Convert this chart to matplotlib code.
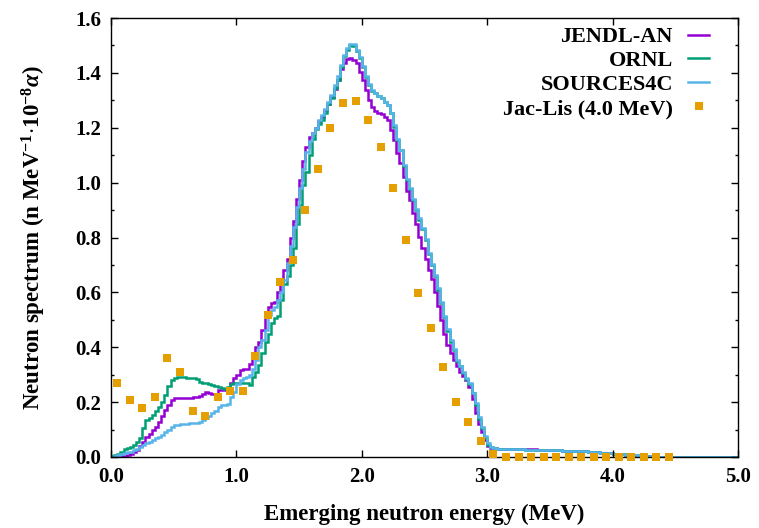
import matplotlib
matplotlib.use("Agg")
import matplotlib.pyplot as plt
import numpy as np

plt.rcParams['font.family'] = ['Liberation Serif', 'DejaVu Serif']
plt.rcParams['font.weight'] = 'bold'
plt.rcParams['mathtext.fontset'] = 'custom'
plt.rcParams['mathtext.rm'] = 'Liberation Serif:bold'
plt.rcParams['mathtext.bf'] = 'Liberation Serif:bold'
plt.rcParams['mathtext.it'] = 'Liberation Serif:italic:bold'

# Histogram bins (MeV): 0.025 MeV wide up to 3.1 MeV, then 0.1 MeV, then one last wide bin
fine_width = 0.025
tail_edges = [3.2, 3.3, 3.4, 3.5, 3.6, 3.7, 3.8, 3.9, 4.0, 4.1, 4.2, 4.3, 5.0]

jendl_fine = [
    0.000, 0.000, 0.000, 0.002, 0.004, 0.008, 0.012, 0.018, 0.026, 0.040,
    0.055, 0.074, 0.085, 0.098, 0.110, 0.129, 0.148, 0.171, 0.190, 0.208,
    0.216, 0.216, 0.216, 0.216, 0.216, 0.216, 0.218, 0.218, 0.222, 0.228,
    0.238, 0.234, 0.228, 0.228, 0.244, 0.244, 0.244, 0.246, 0.268, 0.287,
    0.300, 0.317, 0.320, 0.320, 0.340, 0.372, 0.402, 0.420, 0.463, 0.511,
    0.545, 0.560, 0.566, 0.600, 0.630, 0.680, 0.720, 0.800, 0.860, 0.940,
    1.010, 1.080, 1.130, 1.167, 1.180, 1.200, 1.225, 1.240, 1.265, 1.285,
    1.313, 1.340, 1.374, 1.415, 1.435, 1.450, 1.455, 1.448, 1.435, 1.404,
    1.374, 1.337, 1.301, 1.277, 1.262, 1.255, 1.250, 1.240, 1.228, 1.190,
    1.155, 1.107, 1.070, 1.020, 0.970, 0.935, 0.890, 0.850, 0.803, 0.760,
    0.720, 0.680, 0.650, 0.600, 0.550, 0.500, 0.450, 0.410, 0.380, 0.355,
    0.330, 0.310, 0.295, 0.281, 0.255, 0.210, 0.160, 0.120, 0.090, 0.062,
    0.040, 0.034, 0.031, 0.030]
jendl_tail = [0.030, 0.029, 0.028, 0.027, 0.025, 0.023, 0.021, 0.018,
              0.014, 0.010, 0.005, 0.002, 0.000]

ornl_fine = [
    0.002, 0.006, 0.012, 0.018, 0.028, 0.033, 0.038, 0.045, 0.055, 0.070,
    0.105, 0.135, 0.142, 0.153, 0.168, 0.183, 0.200, 0.226, 0.260, 0.280,
    0.288, 0.290, 0.290, 0.290, 0.289, 0.289, 0.288, 0.284, 0.274, 0.270,
    0.268, 0.265, 0.262, 0.259, 0.255, 0.250, 0.247, 0.255, 0.265, 0.270,
    0.268, 0.268, 0.268, 0.268, 0.262, 0.293, 0.310, 0.335, 0.380, 0.420,
    0.450, 0.487, 0.505, 0.515, 0.572, 0.630, 0.660, 0.700, 0.760, 0.850,
    0.920, 0.990, 1.040, 1.100, 1.160, 1.195, 1.215, 1.230, 1.255, 1.285,
    1.310, 1.345, 1.374, 1.420, 1.460, 1.485, 1.500, 1.498, 1.480, 1.455,
    1.420, 1.385, 1.355, 1.335, 1.325, 1.315, 1.307, 1.295, 1.283, 1.252,
    1.204, 1.155, 1.120, 1.060, 1.010, 0.975, 0.935, 0.900, 0.864, 0.830,
    0.790, 0.740, 0.700, 0.660, 0.610, 0.560, 0.510, 0.460, 0.420, 0.390,
    0.350, 0.330, 0.305, 0.285, 0.265, 0.232, 0.190, 0.140, 0.105, 0.070,
    0.045, 0.036, 0.031, 0.030]
ornl_tail = [0.029, 0.028, 0.027, 0.026, 0.025, 0.023, 0.022, 0.019,
             0.015, 0.011, 0.006, 0.002, 0.000]

sources4c_fine = [
    0.001, 0.004, 0.007, 0.010, 0.014, 0.017, 0.020, 0.024, 0.030, 0.038,
    0.045, 0.050, 0.056, 0.062, 0.068, 0.074, 0.082, 0.090, 0.100, 0.110,
    0.116, 0.118, 0.120, 0.121, 0.122, 0.123, 0.124, 0.125, 0.128, 0.135,
    0.141, 0.150, 0.159, 0.168, 0.181, 0.188, 0.190, 0.192, 0.220, 0.238,
    0.265, 0.282, 0.287, 0.293, 0.300, 0.320, 0.354, 0.400, 0.426, 0.463,
    0.517, 0.536, 0.545, 0.572, 0.600, 0.645, 0.706, 0.770, 0.840, 0.910,
    0.980, 1.050, 1.110, 1.150, 1.180, 1.200, 1.228, 1.245, 1.270, 1.295,
    1.320, 1.355, 1.390, 1.430, 1.465, 1.490, 1.507, 1.505, 1.485, 1.459,
    1.425, 1.390, 1.360, 1.338, 1.325, 1.315, 1.307, 1.295, 1.283, 1.255,
    1.210, 1.160, 1.120, 1.065, 1.015, 0.980, 0.940, 0.905, 0.870, 0.835,
    0.795, 0.745, 0.705, 0.665, 0.615, 0.565, 0.515, 0.465, 0.425, 0.395,
    0.355, 0.333, 0.308, 0.288, 0.268, 0.235, 0.195, 0.145, 0.110, 0.075,
    0.050, 0.038, 0.032, 0.030]
sources4c_tail = [0.029, 0.028, 0.027, 0.026, 0.025, 0.023, 0.022, 0.019,
                  0.015, 0.011, 0.006, 0.002, 0.000]

jaclis_e = [0.05, 0.15, 0.25, 0.35, 0.45, 0.55, 0.65, 0.75, 0.85, 0.95,
            1.05, 1.15, 1.25, 1.35, 1.45, 1.55, 1.65, 1.75, 1.85, 1.95,
            2.05, 2.15, 2.25, 2.35, 2.45, 2.55, 2.65, 2.75, 2.85, 2.95,
            3.05, 3.15, 3.25, 3.35, 3.45, 3.55, 3.65, 3.75, 3.85, 3.95,
            4.05, 4.15, 4.25, 4.35, 4.45]
jaclis_v = [0.270, 0.208, 0.178, 0.217, 0.360, 0.309, 0.167, 0.150, 0.218, 0.240,
            0.240, 0.367, 0.516, 0.637, 0.717, 0.900, 1.050, 1.199, 1.290, 1.296,
            1.227, 1.129, 0.979, 0.790, 0.597, 0.469, 0.327, 0.199, 0.126, 0.057,
            0.011, 0.000, 0.000, 0.000, 0.000, 0.000, 0.000, 0.000, 0.000, 0.000,
            0.000, 0.000, 0.000, 0.000, 0.000]

series_labels = ['JENDL-AN', 'ORNL', 'SOURCES4C', 'Jac-Lis (4.0 MeV)']
colors = ['#9400D3', '#009E73', '#56B4E9', '#E69F00']

n_fine = len(jendl_fine)
fine_edges = list(np.round(np.arange(n_fine + 1) * fine_width, 4))
bin_edges = fine_edges + tail_edges

fig = plt.figure(figsize=(7.59, 5.28), dpi=100)
ax = fig.add_axes([111/759, 1-457/528, (738-111)/759, (457-18)/528])

curves = [jendl_fine + jendl_tail, ornl_fine + ornl_tail, sources4c_fine + sources4c_tail]
for vals, lab, c in zip(curves, series_labels[:3], colors[:3]):
    ax.stairs(vals, bin_edges, color=c, lw=1.8, label=lab, baseline=None)
ax.plot(jaclis_e, jaclis_v, 's', color=colors[3], ms=5.4, mew=0,
        label=series_labels[3], clip_on=False, zorder=5)

ax.set_xlim(0, 5.0)
ax.set_ylim(0, 1.6)
ax.set_xticks([0, 1, 2, 3, 4, 5])
ax.set_xticklabels(['0.0', '1.0', '2.0', '3.0', '4.0', '5.0'])
ax.set_yticks([0.0, 0.2, 0.4, 0.6, 0.8, 1.0, 1.2, 1.4, 1.6])
ax.set_yticklabels(['0.0', '0.2', '0.4', '0.6', '0.8', '1.0', '1.2', '1.4', '1.6'])
ax.set_yticks([0.1, 0.3, 0.5, 0.7, 0.9, 1.1, 1.3, 1.5], minor=True)
ax.tick_params(axis='both', which='major', direction='in', length=5, width=1,
               top=True, right=True, labelsize=15, pad=7)
ax.tick_params(axis='y', which='minor', direction='in', length=2.5, width=1,
               right=True, left=True)
for lbl in ax.get_xticklabels() + ax.get_yticklabels():
    lbl.set_fontweight('bold')
for s in ax.spines.values():
    s.set_linewidth(1.0)

ax.set_xlabel('Emerging neutron energy (MeV)', fontsize=16.5, fontweight='bold')
ax.xaxis.set_label_coords(0.5, (457-504)/439)
ax.set_ylabel(r'Neutron spectrum (n MeV$^{-1}$$\cdot$10$^{-8}$$\mathit{\alpha}$)',
              fontsize=16.5, fontweight='bold')
ax.yaxis.set_label_coords((48-111)/627, 0.5)

leg = ax.legend(loc='upper right', bbox_to_anchor=(0.954, 0.980), frameon=False,
                markerfirst=False, handlelength=0.95, handletextpad=0.68,
                labelspacing=0.15, borderpad=0, borderaxespad=0, numpoints=1,
                prop={'weight': 'bold', 'size': 16})

fig.savefig('out.png', dpi=100)
